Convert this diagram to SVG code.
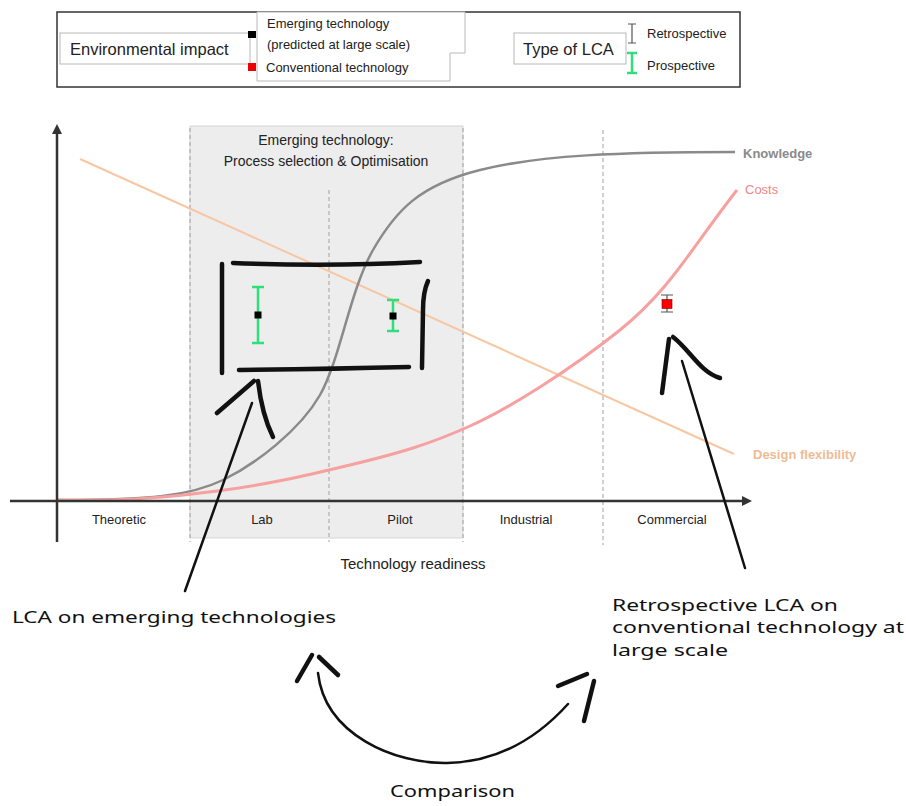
<svg xmlns="http://www.w3.org/2000/svg" width="906" height="806" viewBox="0 0 906 806">
  <defs>
    <style>
      .t { font-family: "Liberation Sans", Arial, sans-serif; fill: #222; }
      .hand { font-family: "Noto Sans", "DejaVu Sans", sans-serif; fill: #111; font-size: 17px; }
      .box { fill: #fff; stroke: #b8b8b8; stroke-width: 1; }
      .dash { stroke: #a0a0a0; stroke-width: 1; stroke-dasharray: 4 3; fill: none; }
      .ink { stroke: #111; stroke-width: 4.5; stroke-linecap: round; fill: none; }
      .shaft { stroke: #111; stroke-width: 2.5; stroke-linecap: round; fill: none; }
      .pbar { stroke: #2fe07a; stroke-width: 2.5; fill: none; }
      .rbar { stroke: #555; stroke-width: 1.2; fill: none; }
    </style>
    <marker id="axisHead" viewBox="0 0 10 10" refX="2" refY="5" markerWidth="4" markerHeight="4" orient="auto">
      <path d="M0,0 L10,5 L0,10 Z" fill="#333"/>
    </marker>
  </defs>

  <rect width="906" height="806" fill="#fff"/>

  <!-- Legend -->
  <g id="legend">
    <rect x="57" y="12" width="683" height="75" fill="#fff" stroke="#333" stroke-width="1.5"/>
    <g id="legend-impact">
      <rect class="box" x="60" y="33" width="190" height="31"/>
      <text class="t" x="70" y="55" font-size="16.5">Environmental impact</text>
    </g>
    <g id="legend-tech">
      <path class="box" d="M257,12 H465 V53 H450 V81 H257 Z"/>
      <rect x="248" y="31" width="8" height="7" fill="#000"/>
      <rect x="248" y="63" width="8" height="8" fill="#e00"/>
      <text class="t" x="267" y="28" font-size="13">Emerging technology</text>
      <text class="t" x="267" y="49" font-size="13">(predicted at large scale)</text>
      <text class="t" x="266" y="72" font-size="13">Conventional technology</text>
    </g>
    <g id="legend-lca">
      <rect class="box" x="514" y="33" width="112" height="31"/>
      <text class="t" x="523" y="55" font-size="16.5">Type of LCA</text>
      <path class="rbar" d="M632,24 V43 M628,24 H636 M628,43 H636"/>
      <text class="t" x="647" y="38" font-size="13">Retrospective</text>
      <path class="pbar" d="M632,53 V73 M627,53 H637 M627,73 H637" stroke-width="3"/>
      <text class="t" x="647" y="70" font-size="13">Prospective</text>
    </g>
  </g>

  <!-- Emerging technology phase band -->
  <g id="phase-band">
    <rect x="190" y="126" width="273" height="412" fill="#ededed" stroke="#d6d6d6" stroke-width="1"/>
    <text class="t" x="326" y="145" font-size="14" text-anchor="middle">Emerging technology:</text>
    <text class="t" x="326" y="166" font-size="14" text-anchor="middle">Process selection &amp; Optimisation</text>
  </g>

  <!-- Stage separators -->
  <g id="separators">
    <line class="dash" x1="190" y1="128" x2="190" y2="542"/>
    <line class="dash" x1="329" y1="190" x2="329" y2="542"/>
    <line class="dash" x1="463" y1="128" x2="463" y2="542"/>
    <line class="dash" x1="603" y1="130" x2="603" y2="545"/>
  </g>

  <!-- Curves -->
  <g id="curves" fill="none">
    <line id="design-flexibility" x1="80" y1="159" x2="734" y2="454" stroke="#f7c6a2" stroke-width="2"/>
    <path id="knowledge" d="M58,500 C150,500 190,496 223,480 S300,430 320,395 S350,290 373,250 S420,185 480,170 S620,152 735,152" stroke="#8a8a8a" stroke-width="2.5"/>
    <path id="costs" d="M58,500 C130,501 170,497 217,491 S300,477 350,465 S430,444 470,426 S570,370 620,330 S690,250 737,190" stroke="#f7a0a0" stroke-width="3"/>
    <text x="743" y="158" font-family="Liberation Sans, Arial, sans-serif" font-size="13" font-weight="bold" fill="#8a8a8a">Knowledge</text>
    <text x="745" y="194" font-family="Liberation Sans, Arial, sans-serif" font-size="13" fill="#f28585">Costs</text>
    <text x="753" y="459" font-family="Liberation Sans, Arial, sans-serif" font-size="13" font-weight="bold" fill="#efbb95">Design flexibility</text>
  </g>

  <!-- Axes -->
  <g id="axes" stroke="#333" stroke-width="2.5">
    <line x1="57" y1="542" x2="57" y2="132" marker-end="url(#axisHead)"/>
    <line x1="10" y1="501" x2="744" y2="501" marker-end="url(#axisHead)"/>
  </g>
  <g id="axis-labels" class="t" font-size="13" text-anchor="middle">
    <text x="119" y="524">Theoretic</text>
    <text x="262" y="524">Lab</text>
    <text x="400" y="524">Pilot</text>
    <text x="526" y="524">Industrial</text>
    <text x="672" y="524">Commercial</text>
    <text x="413" y="569" font-size="15">Technology readiness</text>
  </g>

  <!-- Data points -->
  <g id="points">
    <path class="pbar" d="M258,287 V343 M252,287 H264 M252,343 H264"/>
    <rect x="254.5" y="311.5" width="7" height="7" fill="#000"/>
    <path class="pbar" d="M393,300 V331 M387,300 H399 M387,331 H399"/>
    <rect x="389.5" y="312.5" width="7" height="7" fill="#000"/>
    <path class="rbar" d="M667,295 V312 M661,295 H673 M661,312 H673"/>
    <rect x="662" y="299.5" width="10" height="9" fill="#f00" stroke="#700" stroke-width="0.6"/>
  </g>

  <!-- Hand-drawn annotations -->
  <g id="connectors">
    <g id="emerging-frame">
      <path class="ink" d="M222,264 L222,373"/>
      <path class="ink" d="M233,263 Q330,267 420,262"/>
      <path class="ink" d="M239,370 Q330,369 409,367"/>
      <path class="ink" d="M428,281 Q423,292 423,310 L422,368"/>
    </g>
    <g id="arrow-emerging">
      <path class="ink" d="M217,413 L254,381"/>
      <path class="ink" d="M258,381 Q262,415 273,437"/>
      <path class="shaft" d="M252,403 L185,591"/>
    </g>
    <g id="arrow-conventional">
      <path class="ink" d="M669,339 L662,393"/>
      <path class="ink" d="M673,337 C690,350 700,372 720,378"/>
      <path class="shaft" d="M682,361 L745,568"/>
    </g>
    <g id="comparison-arrow">
      <path class="shaft" d="M318,673 C325,735 395,764 447,763 C500,762 540,735 568,704" stroke-width="3"/>
      <path class="ink" d="M297,681 L312,655"/>
      <path class="ink" d="M319,657 L338,675"/>
      <path class="ink" d="M558,686 L587,674"/>
      <path class="ink" d="M594,681 L584,721"/>
    </g>
  </g>

  <!-- Hand-written notes -->
  <g id="notes">
    <text class="hand" x="12" y="623" textLength="324" lengthAdjust="spacingAndGlyphs">LCA on emerging technologies</text>
    <text class="hand" x="612" y="611" textLength="226" lengthAdjust="spacingAndGlyphs">Retrospective LCA on</text>
    <text class="hand" x="612" y="633" textLength="292" lengthAdjust="spacingAndGlyphs">conventional technology at</text>
    <text class="hand" x="612" y="656" textLength="116" lengthAdjust="spacingAndGlyphs">large scale</text>
    <text class="hand" x="390" y="797" textLength="125" lengthAdjust="spacingAndGlyphs">Comparison</text>
  </g>
</svg>
